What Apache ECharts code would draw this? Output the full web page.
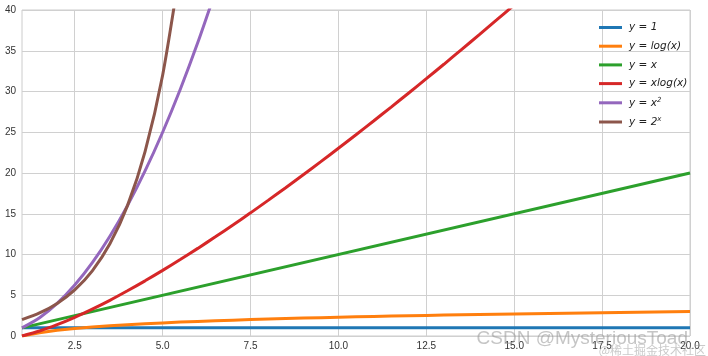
<!DOCTYPE html>
<html><head><meta charset="utf-8">
<script src="https://cdn.jsdelivr.net/npm/echarts@6/dist/echarts.min.js"></script>
<style>html,body{margin:0;padding:0;background:#fff}#c{width:708px;height:356px}</style>
</head><body><div id="c"></div>
<script>
const xs = [1,1.5,2,2.5,3,3.5,4,4.5,5,5.5,6,6.5,7,7.5,8,8.5,9,9.5,10,10.5,11,11.5,12,12.5,13,13.5,14,14.5,15,15.5,16,16.5,17,17.5,18,18.5,19,19.5,20];
const yConst = [1,1];
const xConst = [1,20];
const yLog = [0,0.405,0.693,0.916,1.099,1.253,1.386,1.504,1.609,1.705,1.792,1.872,1.946,2.015,2.079,2.140,2.197,2.251,2.303,2.351,2.398,2.442,2.485,2.526,2.565,2.603,2.639,2.674,2.708,2.741,2.773,2.803,2.833,2.862,2.890,2.918,2.944,2.970,2.996];
const yLin = [1,20];
const yXLog = [0,0.61,1.39,2.29,3.30,4.38,5.55,6.77,8.05,9.38,10.75,12.17,13.62,15.11,16.64,18.19,19.78,21.39,23.03,24.69,26.38,28.09,29.82,31.57,33.34,35.14,36.95,38.78,40.62];
const ySq = [1,2.25,4,6.25,9,12.25,16,20.25,25,30.25,36,42.25];
const yExp = [2,2.83,4,5.66,8,11.31,16,22.63,32,45.25];
const xTicks = [2.5,5,7.5,10,12.5,15,17.5,20];
const names = ['y = 1','y = log(x)','y = x','y = xlog(x)','y = x{sup|2}','y = 2{sup|x}'];
const colors = ['#1f77b4','#ff7f0e','#2ca02c','#d62728','#9467bd','#8c564b'];

function pairs(xa, ya){ return ya.map((v,i)=>[xa[i], v]); }
const seriesData = [
  pairs(xConst, yConst),
  pairs(xs, yLog),
  pairs(xConst, yLin),
  pairs(xs, yXLog),
  pairs(xs, ySq),
  pairs(xs, yExp)
];

const chart = echarts.init(document.getElementById('c'), null, {renderer:'canvas'});
chart.setOption({
  animation:false,
  backgroundColor:'#fff',
  grid:{left:22,right:18,top:10,bottom:20,show:true,borderColor:'#cccccc',borderWidth:1,containLabel:false},
  xAxis:{type:'value',min:1,max:20,
    axisLine:{show:false},axisTick:{show:false,customValues:xTicks},
    axisLabel:{customValues:xTicks,formatter:v=>v.toFixed(1),color:'#333',fontSize:10,fontFamily:'Liberation Sans',margin:5},
    splitLine:{show:true,lineStyle:{color:'#d0d0d0',width:1}}},
  yAxis:{type:'value',min:0,max:40,interval:5,
    axisLine:{show:false},axisTick:{show:false},
    axisLabel:{color:'#333',fontSize:10,fontFamily:'Liberation Sans',margin:6},
    splitLine:{show:true,lineStyle:{color:'#d0d0d0',width:1}}},
  legend:{orient:'vertical',left:594,top:17,itemWidth:23,itemHeight:3,itemGap:7.7,icon:'rect',
    textStyle:{fontFamily:'DejaVu Sans',fontStyle:'italic',fontSize:10.5,color:'#222',padding:[0,0,0,2],
      rich:{sup:{fontSize:7,verticalAlign:'top',fontStyle:'italic',fontFamily:'DejaVu Sans',color:'#222',padding:[0,0,5,0]}}},
    data:names},
  graphic:[
    {type:'text',right:20,bottom:8,z:100,style:{text:'CSDN @MysteriousToad',fontSize:19,fontFamily:'Liberation Sans',fill:'rgba(150,150,150,0.55)'}},
    {type:'text',right:2,bottom:0,z:100,style:{text:'@稀土掘金技术社区',fontSize:12,fontFamily:'Noto Sans CJK SC',fill:'rgba(150,150,150,0.5)'}}
  ],
  series:seriesData.map((d,i)=>({
    name:names[i],type:'line',data:d,showSymbol:false,smooth:(i>=3)?0.25:false,
    clip:true,lineStyle:{width:3,color:colors[i]},itemStyle:{color:colors[i]}
  }))
});
</script></body></html>
